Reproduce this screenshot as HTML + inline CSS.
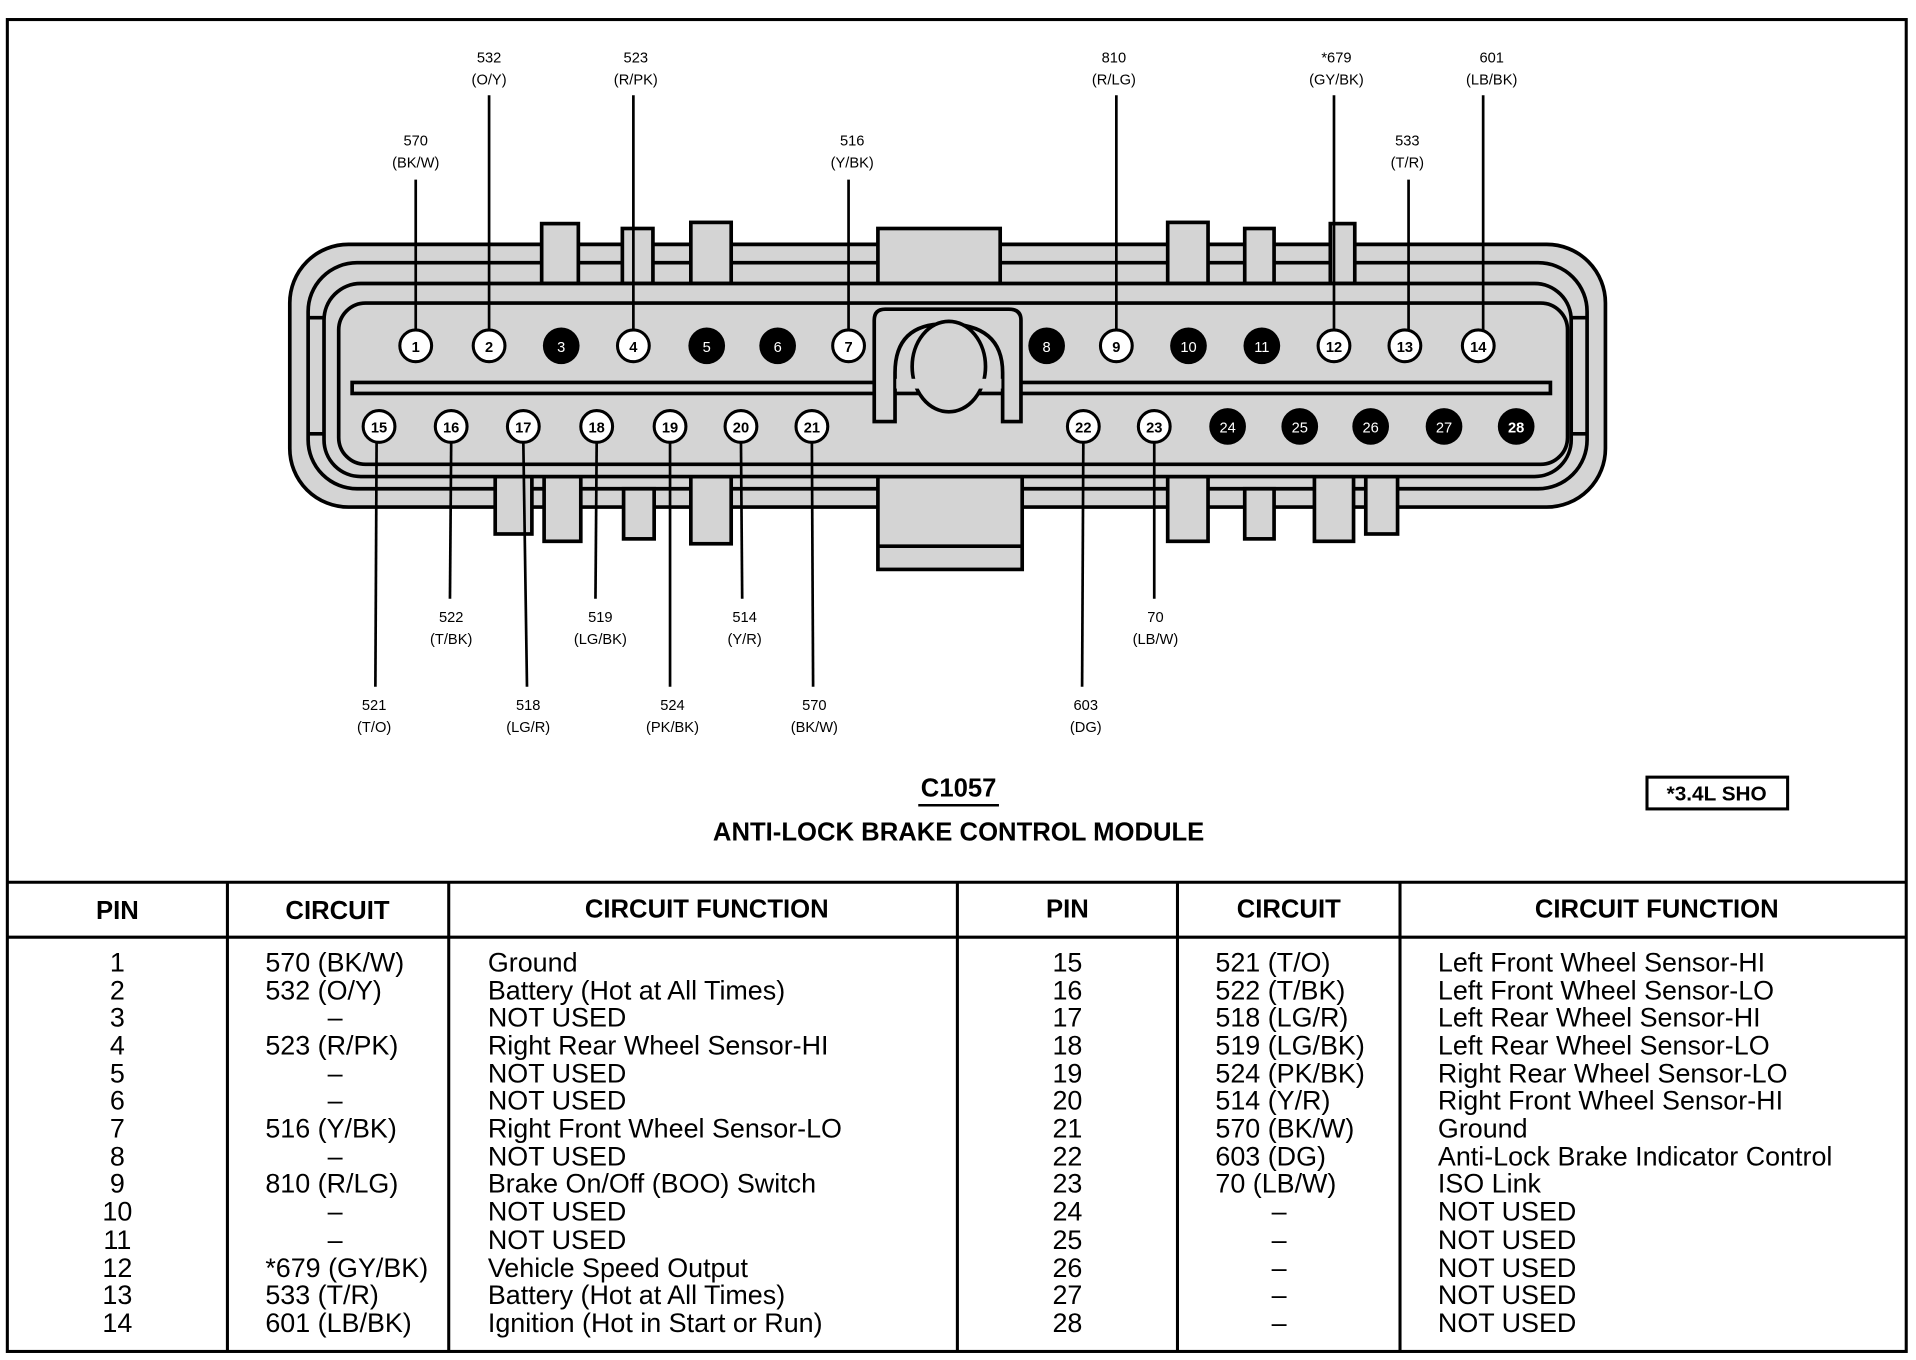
<!DOCTYPE html>
<html><head><meta charset="utf-8"><style>
html,body{margin:0;padding:0;background:#fff;}
svg{display:block;}
text{font-family:"Liberation Sans",Arial,sans-serif;fill:#000;}
.lb{font-size:12px;text-anchor:middle;}
.pn{font-size:12px;font-weight:bold;text-anchor:middle;}
.pw{font-size:12px;text-anchor:middle;fill:#fff;}
.t{font-size:22px;}
.h{font-size:21px;font-weight:bold;text-anchor:middle;}
</style></head><body>
<svg width="1916" height="1360" viewBox="0 0 1567 1113" preserveAspectRatio="none" xmlns="http://www.w3.org/2000/svg">
<rect x="0" y="0" width="1567" height="1113" fill="#fff"/>
<rect x="6" y="16" width="1553" height="1090" fill="none" stroke="#000" stroke-width="2.5"/>

<!-- connector body -->
<g stroke="#000" stroke-width="3" fill="#d4d4d4">
  <rect x="237" y="200" width="1076" height="215" rx="48" ry="48"/>
  <rect x="252" y="215" width="1046" height="185" rx="40" ry="40"/>
  <!-- tabs top -->
  <rect x="443" y="183" width="30" height="49"/>
  <rect x="509" y="187" width="25" height="45"/>
  <rect x="565" y="182" width="33" height="50"/>
  <rect x="718" y="187" width="100" height="45"/>
  <rect x="955" y="182" width="33" height="50"/>
  <rect x="1018" y="187" width="24" height="45"/>
  <rect x="1088" y="183" width="20" height="49"/>
  <!-- tabs bottom -->
  <rect x="405" y="390" width="30" height="47"/>
  <rect x="445" y="390" width="30" height="53"/>
  <rect x="510" y="400" width="25" height="41"/>
  <rect x="565" y="390" width="33" height="55"/>
  <rect x="718" y="390" width="118" height="76"/>
  <rect x="955" y="390" width="33" height="53"/>
  <rect x="1018" y="400" width="24" height="41"/>
  <rect x="1075" y="390" width="32" height="53"/>
  <rect x="1117" y="390" width="26" height="47"/>
</g>
<g stroke="#000" stroke-width="3" fill="none">
  <line x1="718" y1="447" x2="836" y2="447"/>
  <rect x="265" y="232" width="1020" height="158" rx="30" ry="30" fill="#d4d4d4"/>
  <rect x="277" y="248" width="1005" height="132" rx="22" ry="22" fill="#d4d4d4"/>
  <line x1="252" y1="260" x2="265" y2="260" />
  <line x1="252" y1="355" x2="265" y2="355" />
  <line x1="1285" y1="260" x2="1298" y2="260" />
  <line x1="1285" y1="355" x2="1298" y2="355" />
  <rect x="288" y="313" width="980" height="9" fill="#d4d4d4"/>
  <path d="M715 345 V262 Q715 253 724 253 H825 Q835 253 835 262 V345 H820 V305 Q820 265 773 265 Q732 265 732 305 V345 Z" fill="#d4d4d4"/>
  <ellipse cx="776" cy="300" rx="30" ry="37" fill="#d4d4d4"/>
</g>
<rect x="733" y="310" width="86" height="8" fill="#d4d4d4"/>

<!-- leader lines -->
<g stroke="#000" stroke-width="2.2">
  <line x1="340" y1="147" x2="340" y2="270"/>
  <line x1="400" y1="78" x2="400" y2="270"/>
  <line x1="518" y1="78" x2="518" y2="270"/>
  <line x1="694" y1="147" x2="694" y2="270"/>
  <line x1="913" y1="78" x2="913" y2="270"/>
  <line x1="1091" y1="78" x2="1091" y2="270"/>
  <line x1="1152" y1="147" x2="1152" y2="270"/>
  <line x1="1213" y1="78" x2="1213" y2="270"/>
  <line x1="308" y1="362" x2="307" y2="562"/>
  <line x1="369" y1="362" x2="368" y2="490"/>
  <line x1="428" y1="362" x2="431" y2="562"/>
  <line x1="488" y1="362" x2="487" y2="490"/>
  <line x1="548" y1="362" x2="548" y2="562"/>
  <line x1="606" y1="362" x2="607" y2="490"/>
  <line x1="664" y1="362" x2="665" y2="562"/>
  <line x1="886" y1="362" x2="885" y2="562"/>
  <line x1="944" y1="362" x2="944" y2="490"/>
</g>

<!-- pins -->
<g stroke="#000" stroke-width="2.5" fill="#fff">
  <circle cx="340" cy="283" r="13"/><circle cx="400" cy="283" r="13"/>
  <circle cx="518" cy="283" r="13"/><circle cx="694" cy="283" r="13"/>
  <circle cx="913" cy="283" r="13"/><circle cx="1091" cy="283" r="13"/>
  <circle cx="1149" cy="283" r="13"/><circle cx="1209" cy="283" r="13"/>
  <circle cx="310" cy="349" r="13"/><circle cx="369" cy="349" r="13"/>
  <circle cx="428" cy="349" r="13"/><circle cx="488" cy="349" r="13"/>
  <circle cx="548" cy="349" r="13"/><circle cx="606" cy="349" r="13"/>
  <circle cx="664" cy="349" r="13"/><circle cx="886" cy="349" r="13"/>
  <circle cx="944" cy="349" r="13"/>
</g>
<g fill="#000">
  <circle cx="459" cy="283" r="15"/><circle cx="578" cy="283" r="15"/>
  <circle cx="636" cy="283" r="15"/><circle cx="856" cy="283" r="15"/>
  <circle cx="972" cy="283" r="15"/><circle cx="1032" cy="283" r="15"/>
  <circle cx="1004" cy="349" r="15"/><circle cx="1063" cy="349" r="15"/>
  <circle cx="1121" cy="349" r="15"/><circle cx="1181" cy="349" r="15"/>
  <circle cx="1240" cy="349" r="15"/>
</g>
<text x="340" y="288" class="pn">1</text><text x="400" y="288" class="pn">2</text>
<text x="518" y="288" class="pn">4</text><text x="694" y="288" class="pn">7</text>
<text x="913" y="288" class="pn">9</text><text x="1091" y="288" class="pn">12</text>
<text x="1149" y="288" class="pn">13</text><text x="1209" y="288" class="pn">14</text>
<text x="310" y="354" class="pn">15</text><text x="369" y="354" class="pn">16</text>
<text x="428" y="354" class="pn">17</text><text x="488" y="354" class="pn">18</text>
<text x="548" y="354" class="pn">19</text><text x="606" y="354" class="pn">20</text>
<text x="664" y="354" class="pn">21</text><text x="886" y="354" class="pn">22</text>
<text x="944" y="354" class="pn">23</text>
<text x="459" y="288" class="pw">3</text><text x="578" y="288" class="pw">5</text>
<text x="636" y="288" class="pw">6</text><text x="856" y="288" class="pw">8</text>
<text x="972" y="288" class="pw">10</text><text x="1032" y="288" class="pw">11</text>
<text x="1004" y="354" class="pw">24</text><text x="1063" y="354" class="pw">25</text>
<text x="1121" y="354" class="pw">26</text><text x="1181" y="354" class="pw">27</text>
<text x="1240" y="354" class="pw" font-weight="bold">28</text>

<!-- labels -->
<text x="340" y="119" class="lb">570</text><text x="340" y="137" class="lb">(BK/W)</text>
<text x="400" y="51" class="lb">532</text><text x="400" y="69" class="lb">(O/Y)</text>
<text x="520" y="51" class="lb">523</text><text x="520" y="69" class="lb">(R/PK)</text>
<text x="697" y="119" class="lb">516</text><text x="697" y="137" class="lb">(Y/BK)</text>
<text x="911" y="51" class="lb">810</text><text x="911" y="69" class="lb">(R/LG)</text>
<text x="1093" y="51" class="lb">*679</text><text x="1093" y="69" class="lb">(GY/BK)</text>
<text x="1151" y="119" class="lb">533</text><text x="1151" y="137" class="lb">(T/R)</text>
<text x="1220" y="51" class="lb">601</text><text x="1220" y="69" class="lb">(LB/BK)</text>
<text x="369" y="509" class="lb">522</text><text x="369" y="527" class="lb">(T/BK)</text>
<text x="491" y="509" class="lb">519</text><text x="491" y="527" class="lb">(LG/BK)</text>
<text x="609" y="509" class="lb">514</text><text x="609" y="527" class="lb">(Y/R)</text>
<text x="945" y="509" class="lb">70</text><text x="945" y="527" class="lb">(LB/W)</text>
<text x="306" y="581" class="lb">521</text><text x="306" y="599" class="lb">(T/O)</text>
<text x="432" y="581" class="lb">518</text><text x="432" y="599" class="lb">(LG/R)</text>
<text x="550" y="581" class="lb">524</text><text x="550" y="599" class="lb">(PK/BK)</text>
<text x="666" y="581" class="lb">570</text><text x="666" y="599" class="lb">(BK/W)</text>
<text x="888" y="581" class="lb">603</text><text x="888" y="599" class="lb">(DG)</text>

<text x="784" y="652" class="h">C1057</text>
<line x1="751" y1="659" x2="817" y2="659" stroke="#000" stroke-width="2"/>
<text x="784" y="688" class="h">ANTI-LOCK BRAKE CONTROL MODULE</text>
<rect x="1347" y="636" width="115" height="26" fill="none" stroke="#000" stroke-width="2.5"/>
<text x="1404" y="655" class="h" style="font-size:17px">*3.4L SHO</text>

<!-- table -->
<g stroke="#000" stroke-width="2.5">
  <line x1="6" y1="722" x2="1559" y2="722"/>
  <line x1="6" y1="767" x2="1559" y2="767"/>
  <line x1="186" y1="722" x2="186" y2="1106"/>
  <line x1="367" y1="722" x2="367" y2="1106"/>
  <line x1="783" y1="722" x2="783" y2="1106"/>
  <line x1="963" y1="722" x2="963" y2="1106"/>
  <line x1="1145" y1="722" x2="1145" y2="1106"/>
</g>
<text x="96" y="752" class="h">PIN</text>
<text x="276" y="752" class="h">CIRCUIT</text>
<text x="578" y="751" class="h">CIRCUIT FUNCTION</text>
<text x="873" y="751" class="h">PIN</text>
<text x="1054" y="751" class="h">CIRCUIT</text>
<text x="1355" y="751" class="h">CIRCUIT FUNCTION</text>

<g class="t">
<text x="96" y="795" text-anchor="middle">1</text><text x="217" y="795">570 (BK/W)</text><text x="399" y="795">Ground</text>
<text x="96" y="818" text-anchor="middle">2</text><text x="217" y="818">532 (O/Y)</text><text x="399" y="818">Battery (Hot at All Times)</text>
<text x="96" y="840" text-anchor="middle">3</text><text x="268" y="840">–</text><text x="399" y="840">NOT USED</text>
<text x="96" y="863" text-anchor="middle">4</text><text x="217" y="863">523 (R/PK)</text><text x="399" y="863">Right Rear Wheel Sensor-HI</text>
<text x="96" y="886" text-anchor="middle">5</text><text x="268" y="886">–</text><text x="399" y="886">NOT USED</text>
<text x="96" y="908" text-anchor="middle">6</text><text x="268" y="908">–</text><text x="399" y="908">NOT USED</text>
<text x="96" y="931" text-anchor="middle">7</text><text x="217" y="931">516 (Y/BK)</text><text x="399" y="931">Right Front Wheel Sensor-LO</text>
<text x="96" y="954" text-anchor="middle">8</text><text x="268" y="954">–</text><text x="399" y="954">NOT USED</text>
<text x="96" y="976" text-anchor="middle">9</text><text x="217" y="976">810 (R/LG)</text><text x="399" y="976">Brake On/Off (BOO) Switch</text>
<text x="96" y="999" text-anchor="middle">10</text><text x="268" y="999">–</text><text x="399" y="999">NOT USED</text>
<text x="96" y="1022" text-anchor="middle">11</text><text x="268" y="1022">–</text><text x="399" y="1022">NOT USED</text>
<text x="96" y="1045" text-anchor="middle">12</text><text x="217" y="1045">*679 (GY/BK)</text><text x="399" y="1045">Vehicle Speed Output</text>
<text x="96" y="1067" text-anchor="middle">13</text><text x="217" y="1067">533 (T/R)</text><text x="399" y="1067">Battery (Hot at All Times)</text>
<text x="96" y="1090" text-anchor="middle">14</text><text x="217" y="1090">601 (LB/BK)</text><text x="399" y="1090">Ignition (Hot in Start or Run)</text>

<text x="873" y="795" text-anchor="middle">15</text><text x="994" y="795">521 (T/O)</text><text x="1176" y="795">Left Front Wheel Sensor-HI</text>
<text x="873" y="818" text-anchor="middle">16</text><text x="994" y="818">522 (T/BK)</text><text x="1176" y="818">Left Front Wheel Sensor-LO</text>
<text x="873" y="840" text-anchor="middle">17</text><text x="994" y="840">518 (LG/R)</text><text x="1176" y="840">Left Rear Wheel Sensor-HI</text>
<text x="873" y="863" text-anchor="middle">18</text><text x="994" y="863">519 (LG/BK)</text><text x="1176" y="863">Left Rear Wheel Sensor-LO</text>
<text x="873" y="886" text-anchor="middle">19</text><text x="994" y="886">524 (PK/BK)</text><text x="1176" y="886">Right Rear Wheel Sensor-LO</text>
<text x="873" y="908" text-anchor="middle">20</text><text x="994" y="908">514 (Y/R)</text><text x="1176" y="908">Right Front Wheel Sensor-HI</text>
<text x="873" y="931" text-anchor="middle">21</text><text x="994" y="931">570 (BK/W)</text><text x="1176" y="931">Ground</text>
<text x="873" y="954" text-anchor="middle">22</text><text x="994" y="954">603 (DG)</text><text x="1176" y="954">Anti-Lock Brake Indicator Control</text>
<text x="873" y="976" text-anchor="middle">23</text><text x="994" y="976">70 (LB/W)</text><text x="1176" y="976">ISO Link</text>
<text x="873" y="999" text-anchor="middle">24</text><text x="1040" y="999">–</text><text x="1176" y="999">NOT USED</text>
<text x="873" y="1022" text-anchor="middle">25</text><text x="1040" y="1022">–</text><text x="1176" y="1022">NOT USED</text>
<text x="873" y="1045" text-anchor="middle">26</text><text x="1040" y="1045">–</text><text x="1176" y="1045">NOT USED</text>
<text x="873" y="1067" text-anchor="middle">27</text><text x="1040" y="1067">–</text><text x="1176" y="1067">NOT USED</text>
<text x="873" y="1090" text-anchor="middle">28</text><text x="1040" y="1090">–</text><text x="1176" y="1090">NOT USED</text>
</g>
</svg>
</body></html>
